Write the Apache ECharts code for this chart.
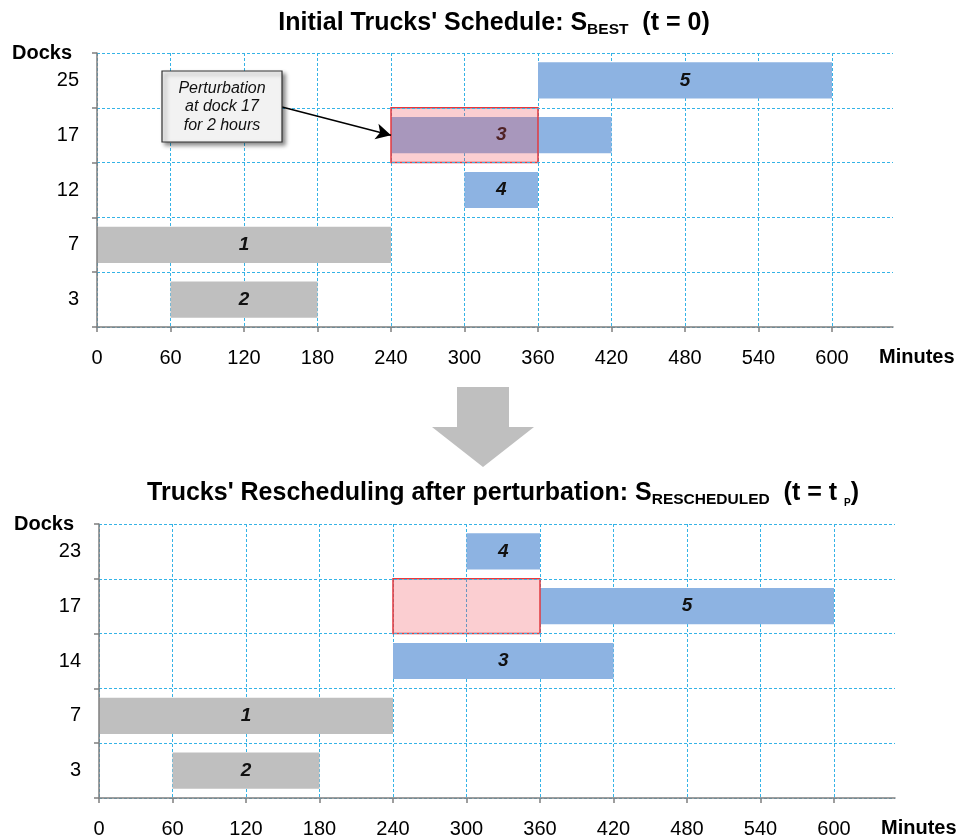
<!DOCTYPE html>
<html><head><meta charset="utf-8">
<script src="https://cdn.jsdelivr.net/npm/echarts@6/dist/echarts.min.js"></script>
<style>html,body{margin:0;padding:0;background:#fff}#c{width:958px;height:840px}</style>
</head><body><div id="c"></div>
<script>
// ---- data ----
const docksTop = ['3', '7', '12', '17', '25'];
const docksBottom = ['3', '7', '14', '17', '23'];
// [dock, start (min), end (min), truck id]
const trucksTop = [
  ['25', 360, 600, 5],
  ['17', 240, 420, 3],
  ['12', 300, 360, 4],
  ['7', 0, 240, 1],
  ['3', 60, 180, 2]
];
const trucksBottom = [
  ['23', 300, 360, 4],
  ['17', 360, 600, 5],
  ['14', 240, 420, 3],
  ['7', 0, 240, 1],
  ['3', 60, 180, 2]
];
const perturbationTop = [['17', 240, 360]];
const perturbationBottom = [['17', 240, 360]];
const grayTrucks = [1, 2];
const minuteMin = 0, minuteMax = 600, minuteStep = 60, axisEnd = 650;

// ---- styling ----
const FONT = '"Liberation Sans", Arial, sans-serif';
const AXIS_COLOR = '#7f7f7f';
const GRID_COLOR = '#35b3e6';
const BLUE = '#8db3e2', GRAY = '#bfbfbf';

const panels = [
  { left: 97, top: 53, axisY: 327, rightEnd: 893, plotW: 735, docks: docksTop },
  { left: 99, top: 524, axisY: 798, rightEnd: 895, plotW: 735, docks: docksBottom }
];

const grids = [], xAxes = [], yAxes = [];
panels.forEach((p, i) => {
  const h = p.axisY - p.top;
  grids.push({ left: p.left, top: p.top, width: p.rightEnd - p.left, height: h, outerBoundsMode: 'none' });
  grids.push({ left: p.left, top: p.top, width: p.plotW, height: h, outerBoundsMode: 'none' });
  xAxes.push({
    gridIndex: 2 * i, type: 'value', min: minuteMin, max: axisEnd, z: 5,
    axisLine: { show: true, lineStyle: { color: AXIS_COLOR, width: 1.5 } },
    axisTick: { show: false }, axisLabel: { show: false }, splitLine: { show: false },
    name: 'Minutes', nameLocation: 'end', nameGap: -14, nameMoveOverlap: false,
    nameTextStyle: { fontFamily: FONT, fontSize: 20, fontWeight: 'bold', color: '#000',
      align: 'left', verticalAlign: 'top', lineHeight: 61 }
  });
  xAxes.push({
    gridIndex: 2 * i + 1, type: 'value', min: minuteMin, max: minuteMax, interval: minuteStep,
    axisLine: { show: false },
    axisTick: { show: true, length: 5, lineStyle: { color: AXIS_COLOR, width: 1.5 } },
    axisLabel: { fontFamily: FONT, fontSize: 20, color: '#000', margin: 21 },
    splitLine: { show: true, lineStyle: { color: GRID_COLOR, type: [3, 2], width: 1 } }
  });
  yAxes.push({
    gridIndex: 2 * i, type: 'category', data: p.docks, boundaryGap: true, z: 5,
    axisLine: { show: true, lineStyle: { color: AXIS_COLOR, width: 1.5 } },
    axisTick: { show: true, length: 5, interval: 0, lineStyle: { color: AXIS_COLOR, width: 1.5 } },
    axisLabel: { interval: 0, fontFamily: FONT, fontSize: 20, color: '#000', margin: 18 },
    splitLine: { show: true, interval: 0, lineStyle: { color: GRID_COLOR, type: [3, 2], width: 1 } },
    name: 'Docks', nameLocation: 'end', nameGap: 0, nameMoveOverlap: false,
    nameTextStyle: { fontFamily: FONT, fontSize: 20, fontWeight: 'bold', color: '#000',
      align: 'right', verticalAlign: 'middle', padding: [0, 25, 0, 0] }
  });
  yAxes.push({ gridIndex: 2 * i + 1, type: 'category', data: p.docks, boundaryGap: true, show: false });
});

function truckRender(params, api) {
  const y = api.value(0), s = api.value(1), e = api.value(2), id = api.value(3);
  const p0 = api.coord([s, y]), p1 = api.coord([e, y]);
  const h = api.size([0, 1])[1] * 0.66;
  return {
    type: 'group', children: [
      { type: 'rect', shape: { x: p0[0], y: p0[1] - h / 2, width: p1[0] - p0[0], height: h },
        style: { fill: grayTrucks.includes(id) ? GRAY : BLUE } },
      { type: 'text', x: (p0[0] + p1[0]) / 2, y: p0[1],
        style: { text: String(id), fill: '#111', font: 'italic bold 19px ' + FONT,
          align: 'center', verticalAlign: 'middle' } }
    ]
  };
}
function pertRender(params, api) {
  const y = api.value(0), s = api.value(1), e = api.value(2);
  const p0 = api.coord([s, y]), p1 = api.coord([e, y]);
  const h = api.size([0, 1])[1];
  return { type: 'rect', shape: { x: p0[0], y: p0[1] - h / 2, width: p1[0] - p0[0], height: h },
    style: { fill: 'rgba(240,80,90,0.28)', stroke: '#e23a3f', lineWidth: 1.5 } };
}
const dims = [{ name: 'dock', type: 'ordinal' }, 'start', 'end', 'truck'];

const series = [
  { type: 'custom', xAxisIndex: 1, yAxisIndex: 1, data: trucksTop, dimensions: dims,
    encode: { x: [1, 2], y: 0 }, renderItem: truckRender, z: 2, silent: true },
  { type: 'custom', xAxisIndex: 1, yAxisIndex: 1, data: perturbationTop, dimensions: dims.slice(0, 3),
    encode: { x: [1, 2], y: 0 }, renderItem: pertRender, z: 3, silent: true,
    markLine: { silent: true, symbol: ['none', 'arrow'], symbolSize: [12, 15],
      lineStyle: { color: '#000', width: 1.5, type: 'solid' }, label: { show: false },
      data: [[{ x: 282, y: 107 }, { coord: [240, '17'] }]] } },
  { type: 'custom', xAxisIndex: 3, yAxisIndex: 3, data: trucksBottom, dimensions: dims,
    encode: { x: [1, 2], y: 0 }, renderItem: truckRender, z: 2, silent: true },
  { type: 'custom', xAxisIndex: 3, yAxisIndex: 3, data: perturbationBottom, dimensions: dims.slice(0, 3),
    encode: { x: [1, 2], y: 0 }, renderItem: pertRender, z: 3, silent: true }
];

const richTitle = {
  m: { fontFamily: FONT, fontSize: 25, fontWeight: 'bold', color: '#000', lineHeight: 30 },
  s: { fontFamily: FONT, fontSize: 15.5, fontWeight: 'bold', color: '#000', lineHeight: 15, verticalAlign: 'bottom' },
  p: { fontFamily: FONT, fontSize: 10, fontWeight: 'bold', color: '#000', lineHeight: 13, verticalAlign: 'bottom' }
};

const chart = echarts.init(document.getElementById('c'), null, { renderer: 'canvas' });
chart.setOption({
  backgroundColor: '#fff',
  animation: false,
  title: [
    { text: "{m|Initial Trucks' Schedule: S}{s|BEST}{m|  (t = 0)}", left: 494, top: 8, textAlign: 'center',
      padding: 0, textStyle: { rich: richTitle } },
    { text: "{m|Trucks' Rescheduling after perturbation: S}{s|RESCHEDULED}{m|  (t = t }{p|P}{m|)}", left: 503, top: 478,
      textAlign: 'center', padding: 0, textStyle: { rich: richTitle } }
  ],
  grid: grids, xAxis: xAxes, yAxis: yAxes, series: series,
  graphic: [
    { type: 'polygon', z: 100, silent: true,
      shape: { points: [[457, 387], [509, 387], [509, 427], [534, 427], [483, 467], [432, 427], [457, 427]] },
      style: { fill: '#bfbfbf' } },
    { type: 'rect', z: 100, silent: true, shape: { x: 162, y: 71, width: 120, height: 71 },
      style: { fill: '#f2f2f2', stroke: '#333', lineWidth: 1.2, shadowBlur: 4, shadowOffsetX: 3, shadowOffsetY: 3,
        shadowColor: 'rgba(0,0,0,0.45)' } },
    { type: 'text', z: 101, silent: true, x: 222, y: 107,
      style: { text: 'Perturbation\nat dock 17\nfor 2 hours', font: 'italic 16px ' + FONT, fill: '#111',
        align: 'center', verticalAlign: 'middle', lineHeight: 18.5 } }
  ]
});
</script></body></html>
